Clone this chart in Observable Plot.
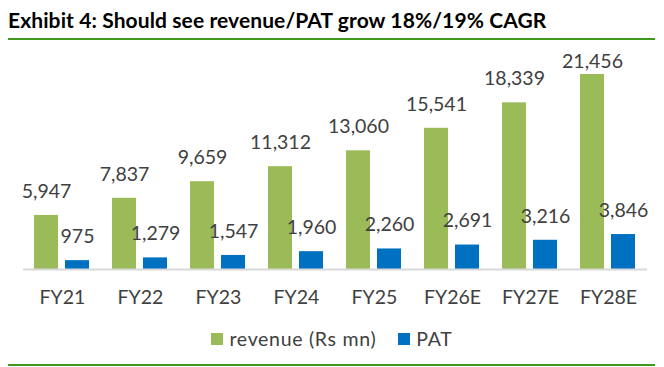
<!DOCTYPE html>
<html><head><meta charset="utf-8">
<script src="https://cdn.jsdelivr.net/npm/d3@7"></script>
<script src="https://cdn.jsdelivr.net/npm/@observablehq/plot@0.6"></script>
<style>
body{margin:0;background:#fff;width:664px;height:367px;position:relative;overflow:hidden;font-family:Lato,"Open Sans",sans-serif;}
#title{position:absolute;left:8px;top:0;width:647px;height:31.5px;padding-top:6.5px;border-bottom:2px solid #3f9a1f;font-weight:bold;font-size:21px;letter-spacing:0.1px;line-height:1.2;color:#000;white-space:nowrap;}
#chart{position:absolute;left:0;top:42px;}
#legend{position:absolute;left:0;top:328px;width:664px;display:flex;justify-content:center;gap:22px;font-size:19.5px;letter-spacing:0.7px;color:#404040;line-height:22px;}
#legend .item{display:flex;align-items:center;gap:6px;}
#legend .sw{width:12px;height:12px;display:inline-block;}
#bottom{position:absolute;left:8px;top:364px;width:647px;height:2px;background:#3f9a1f;}
</style></head>
<body>
<div id="title">Exhibit 4: Should see revenue/PAT grow 18%/19% CAGR</div>
<div id="chart"></div>
<div id="legend"></div>
<div id="bottom"></div>
<script>
const years = ["FY21","FY22","FY23","FY24","FY25","FY26E","FY27E","FY28E"];
const revenue = [5947,7837,9659,11312,13060,15541,18339,21456];
const pat = [975,1279,1547,1960,2260,2691,3216,3846];
const seriesNames = ["revenue (Rs mn)","PAT"];
const seriesColors = ["#9bbb59","#0070c0"];

const data = [];
years.forEach((y,i)=>{
  data.push({year:y, series:seriesNames[0], value:revenue[i]});
  data.push({year:y, series:seriesNames[1], value:pat[i]});
});
const maxV = d3.max(data, d=>d.value);
const fmt = d3.format(",");

const chart = Plot.plot({
  width:664, height:275,
  marginLeft:22, marginRight:17, marginTop:20, marginBottom:48,
  style:{fontFamily:"Lato, 'Open Sans', sans-serif", fontSize:"19.5px", color:"#404040", background:"transparent"},
  fx:{domain:years, paddingInner:0, paddingOuter:0, label:null, axis:null},
  x:{domain:seriesNames, axis:null, paddingInner:0.219, paddingOuter:0.33},
  y:{domain:[0, maxV*1.0616], axis:null},
  color:{domain:seriesNames, range:seriesColors},
  marks:[
    Plot.barY(data,{fx:"year", x:"series", y:"value", fill:"series"}),
    Plot.ruleY([0],{stroke:"#d9d9d9", strokeWidth:2}),
    Plot.text(data.filter(d=>d.value!==maxV),{fx:"year", x:"series", y:"value", text:d=>fmt(d.value), dy:-24, fill:"#404040", fontSize:19.5}),
    Plot.text(data.filter(d=>d.value===maxV),{fx:"year", x:"series", y:"value", text:d=>fmt(d.value), dy:-13, fill:"#404040", fontSize:19.5}),
    Plot.axisFx({anchor:"bottom", tickSize:0, tickPadding:21, label:null, fill:"#404040", fontSize:19.5})
  ]
});
document.getElementById("chart").appendChild(chart);

const leg = document.getElementById("legend");
seriesNames.forEach((n,i)=>{
  const it = document.createElement("span"); it.className="item";
  const sw = document.createElement("span"); sw.className="sw"; sw.style.background=seriesColors[i];
  const t = document.createElement("span"); t.textContent=n;
  it.appendChild(sw); it.appendChild(t); leg.appendChild(it);
});
</script>
</body></html>
